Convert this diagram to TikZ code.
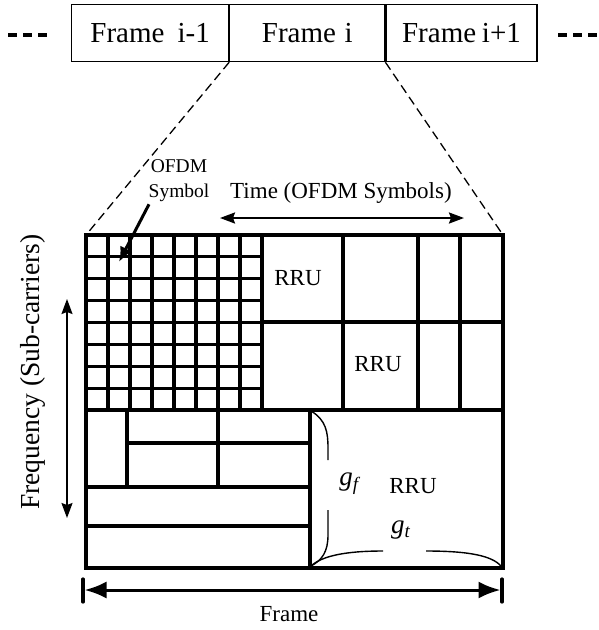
\documentclass[tikz,border=0pt]{standalone}
\usepackage{fontspec}
\setmainfont{Liberation Serif}
\usetikzlibrary{arrows.meta}
\begin{document}
\begin{tikzpicture}[x=1pt,y=-1pt,>={Stealth[length=15pt,width=11pt,inset=2pt]},
	frm/.style={draw,line width=1.2pt,minimum height=57pt,inner sep=0pt,anchor=north west,font=\fontsize{29}{31}\selectfont},
	cell/.style={line width=3.2pt},
	guide/.style={line width=1.3pt,dash pattern=on 9pt off 5pt},
	gap/.style={line width=1.4pt},
	lbl/.style={inner sep=0pt,font=\fontsize{23}{25}\selectfont},
	]
	\useasboundingbox (0,0) rectangle (599,630);
	% cac khung
	\node[frm,minimum width=157pt] (fprev) at (71,4) {Frame\hspace{0.45em}i-1};
	\node[frm,minimum width=155pt] (fcur) at (fprev.north east) {Frame\hspace{0.3em}i};
	\node[frm,minimum width=151pt] (fnext) at (fcur.north east) {Frame\hspace{0.2em}i+1};
	\coordinate (dl) at (8,35);
	\coordinate (dr) at (558,35);
	\draw[line width=4pt,dash pattern=on 9pt off 6pt] (dl) -- ++(39,0);
	\draw[line width=4pt,dash pattern=on 9pt off 6pt] (dr) -- ++(39,0);
	% luoi
	\coordinate (A) at (86,235);
	\coordinate (B) at (503,235);
	\coordinate (C) at (503,568);
	\coordinate (D) at (86,568);
	\draw[guide] (fcur.south west) -- (A);
	\draw[guide] (fcur.south east) -- (B);
	\foreach \i in {1,...,8} \draw[cell] (86+22*\i,235) -- (86+22*\i,410);
	\foreach \j in {1,...,7} \draw[cell] (86,235+21.875*\j) -- (262,235+21.875*\j);
	\draw[cell] (262,322) -- (503,322)
		(343,235) -- (343,410) (418,235) -- (418,410) (460,235) -- (460,410)
		(86,410) -- (503,410) (310,410) -- (310,568)
		(127,410) -- (127,487) (218,410) -- (218,487)
		(127,443) -- (310,443) (86,487) -- (310,487) (86,526) -- (310,526);
	\draw[cell] (A) rectangle (C);
	\node[lbl] (rru1) at (298,278) {RRU};
	\node[lbl] (rru2) at (378,364) {RRU};
	\node[lbl] (rru3) at (413,486) {RRU};
	% khoang bao ve
	\node[inner sep=0pt,font=\fontsize{27}{29}\selectfont] (gf) at (350,484) {\textit{g}\textsubscript{\textit{f}}};
	\node[inner sep=0pt,font=\fontsize{27}{29}\selectfont] (gt) at (401,530) {\textit{g}\textsubscript{\textit{t}}};
	\draw[gap] (311,411) .. controls (326,420) and (328,432) .. (328,448) -- (328,460);
	\draw[gap] (328,510) -- (328,535) .. controls (328,552) and (322,560) .. (311,566);
	\draw[gap] (311,566) .. controls (322,556) and (345,551) .. (383,551);
	\draw[gap] (426,551) .. controls (470,551) and (492,556) .. (501,566);
	% mui ten
	\node[lbl,font=\fontsize{19.5}{25}\selectfont,align=center] (sym) at (179,181) {OFDM\\Symbol};
	\coordinate (symtip) at (119,262);
	\draw[line width=3pt,-{Latex[length=15pt,width=13pt]}] ([xshift=-30pt,yshift=-2pt]sym.south) -- (symtip);
	\node[lbl] (tlab) at (341,193) {Time (OFDM Symbols)};
	\coordinate (t1) at (220,218);
	\coordinate (t2) at (464,218);
	\draw[line width=2.2pt,<->] (t1) -- (t2);
	\node[lbl,font=\fontsize{27.5}{29}\selectfont,rotate=90] (qlab) at (33,372) {Frequency (Sub-carriers)};
	\coordinate (q1) at (67,299);
	\coordinate (q2) at (67,518);
	\draw[line width=1.6pt,<->] (q1) -- (q2);
	\coordinate (fa) at (83,590);
	\coordinate (fb) at (502,590);
	\draw[line width=3pt,{Latex[length=22pt,width=17pt]}-{Latex[length=22pt,width=17pt]}] ([xshift=1.5pt]fa) -- ([xshift=-1.5pt]fb);
	\draw[line width=3.2pt,line cap=round] ([yshift=11pt]fa) -- ([yshift=-12pt]fa) ([yshift=11pt]fb) -- ([yshift=-12pt]fb);
	\node[lbl] (flab) at (289,614) {Frame};
\end{tikzpicture}
\end{document}
